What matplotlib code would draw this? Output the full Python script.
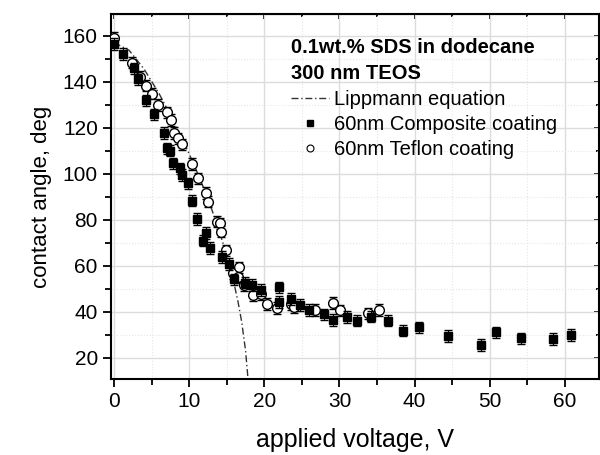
import matplotlib
matplotlib.use('Agg')
import matplotlib.pyplot as plt
from matplotlib.ticker import MultipleLocator

plt.rcParams['font.family'] = ['Liberation Sans', 'DejaVu Sans']

# 60nm Composite coating (squares)
comp_v = [0, 1.2, 2.6, 3.2, 4.3, 5.35, 6.6, 7.0, 7.4, 7.9, 8.8, 9.1, 9.9, 10.4,
          11.0, 12.2, 11.9, 12.75, 14.4, 15.25, 16.0, 17.4, 18.3, 19.5, 22.0,
          21.9, 23.5, 24.7, 26.0, 27.9, 29.2, 31.0, 32.3, 34.2, 36.4, 38.5,
          40.6, 44.5, 48.8, 50.8, 54.1, 58.4, 60.8]
comp_ang = [156.3, 152, 145.8, 141, 131.9, 125.8, 117.6, 111, 110, 104.5, 102.3,
            99.4, 95.8, 88.3, 80.2, 74.1, 70.9, 67.6, 63.8, 60.7, 54, 52.6, 51.6,
            49.4, 50.6, 44.2, 45.6, 42.9, 40.7, 38.8, 36.4, 37.6, 36.1, 37.8,
            36.1, 31.7, 33.2, 29.4, 25.5, 31, 28.4, 28, 29.9]

# 60nm Teflon coating (open circles)
tef_v = [0, 2.35, 3.5, 4.2, 5.0, 5.8, 7.0, 7.6, 8.0, 8.5, 9.05, 10.4, 11.2, 12.3,
         12.5, 13.7, 14.1, 14.2, 14.95, 15.8, 16.5, 16.6, 17.3, 18.5, 19.6, 20.4,
         21.7, 23.6, 23.9, 26.7, 29.1, 30.1, 33.8, 35.2]
tef_ang = [158.9, 148.3, 142.2, 138.3, 134.8, 129.9, 126.7, 123.3, 117.6, 115.4,
           112.7, 104.3, 98, 91.5, 87.8, 79.1, 78.4, 74.8, 66.6, 56.6, 55.1, 59.3,
           51.6, 47.3, 47.6, 43.3, 41.5, 43.3, 42.0, 40.7, 43.8, 40.6, 39.3, 40.7]

err_deg = 2.5

# Lippmann equation curve
lip_v = [0, 2, 4, 6, 8, 9, 10, 11, 12, 13, 14, 15, 16, 16.5, 17, 17.5, 17.9]
lip_ang = [157.0, 153.7, 145.5, 134.8, 122.4, 115.7, 108.6, 101.1, 93.2, 84.5,
           75.1, 64.4, 51.8, 44.3, 35.3, 23.1, 8.0]

fig = plt.figure(figsize=(6, 4.55), dpi=100)
ax = fig.add_axes([0.185, 0.167, 0.813, 0.802])

ax.grid(True, which='major', color='#dcdcdc', lw=1.0)
ax.grid(True, which='minor', color='#e6e6e6', lw=0.8, ls=':')
ax.set_axisbelow(True)

lip, = ax.plot(lip_v, lip_ang, color='#333333', lw=1.0, ls=(0, (5, 2, 1, 2)),
               label='Lippmann equation')
ax.errorbar(tef_v, tef_ang, yerr=err_deg, fmt='o', ms=7, mfc='white', mec='black',
            mew=1.0, ecolor='black', elinewidth=0.8, capsize=3, zorder=3)
ax.errorbar(comp_v, comp_ang, yerr=err_deg, fmt='s', ms=6, mfc='black', mec='black',
            ecolor='black', elinewidth=0.8, capsize=3, zorder=4)
sq, = ax.plot([], [], 's', color='black', ms=4)
ci, = ax.plot([], [], 'o', mfc='white', mec='black', ms=5, mew=0.8)

ax.set_xlim(-0.4, 64.5)
ax.set_ylim(10.7, 169.4)
ax.xaxis.set_major_locator(MultipleLocator(10))
ax.xaxis.set_minor_locator(MultipleLocator(5))
ax.yaxis.set_minor_locator(MultipleLocator(10))
ax.set_yticks(range(20, 161, 20))

for s in ax.spines.values():
    s.set_linewidth(1.5)
ax.tick_params(which='both', direction='out', width=1.3, labelsize=15)
ax.tick_params(which='major', length=6)
ax.tick_params(which='minor', length=4)
ax2 = ax.secondary_xaxis('top')
ax2.set_xticks(range(0, 70, 10))
ax2.xaxis.set_minor_locator(MultipleLocator(5))
ax2.tick_params(which='both', direction='in', width=1.3, labeltop=False)
ax3 = ax.secondary_yaxis('right')
ax3.set_yticks(range(20, 161, 20))
ax3.yaxis.set_minor_locator(MultipleLocator(10))
ax3.tick_params(which='both', direction='in', width=1.3, labelright=False)

ax.set_xlabel('applied voltage, V', fontsize=18, labelpad=12)
ax.set_ylabel('contact angle, deg', fontsize=16, labelpad=8)

leg = ax.legend([lip, sq, ci],
                ['Lippmann equation', '60nm Composite coating', '60nm Teflon coating'],
                loc='upper left', bbox_to_anchor=(0.352, 0.815), frameon=False,
                fontsize=14.5, handlelength=1.9, handletextpad=0.25,
                labelspacing=0.3, borderaxespad=0)
ax.text(0.369, 0.935, '0.1wt.% SDS in dodecane\n300 nm TEOS', transform=ax.transAxes,
        fontsize=14.5, fontweight='bold', va='top', linespacing=1.45)

fig.savefig('out.png', dpi=100)
